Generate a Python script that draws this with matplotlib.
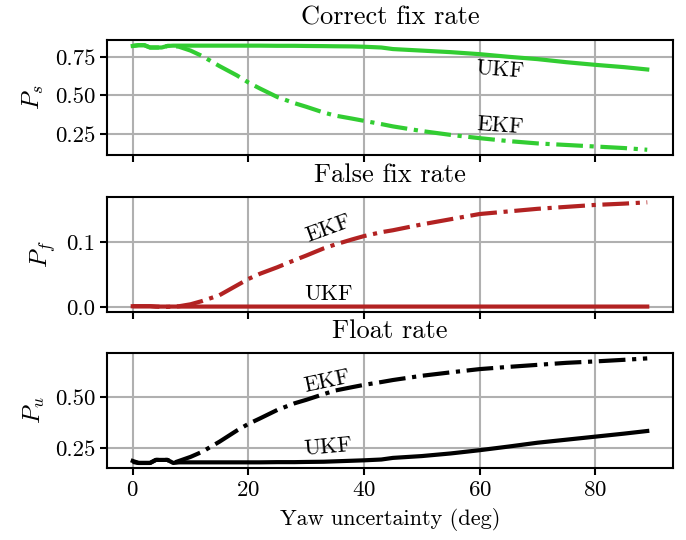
import matplotlib
matplotlib.use("Agg")
import matplotlib.pyplot as plt

plt.rcParams['font.family'] = ['cmr10', 'DejaVu Serif']
plt.rcParams['mathtext.fontset'] = 'cm'
plt.rcParams['axes.formatter.use_mathtext'] = True
plt.rcParams['font.size'] = 16

yaw = [0, 1, 2, 3, 4, 5, 6, 7, 8, 10, 12, 15, 18, 20, 22, 25, 28, 30, 33, 35, 38, 40,
       43, 45, 50, 55, 60, 65, 70, 75, 80, 85, 89]

ekf_ps = [0.82, 0.825, 0.825, 0.81, 0.81, 0.81, 0.82, 0.82, 0.815, 0.79, 0.755, 0.69, 0.63,
          0.584, 0.545, 0.49, 0.45, 0.427, 0.39, 0.37, 0.35, 0.336, 0.315, 0.30, 0.27, 0.245,
          0.224, 0.205, 0.19, 0.18, 0.17, 0.16, 0.149]
ukf_ps = [0.82, 0.825, 0.825, 0.81, 0.81, 0.81, 0.82, 0.822, 0.822, 0.822, 0.822, 0.822, 0.822,
          0.822, 0.822, 0.821, 0.821, 0.82, 0.819, 0.818, 0.817, 0.815, 0.81, 0.80, 0.79, 0.78,
          0.767, 0.75, 0.735, 0.715, 0.698, 0.683, 0.668]

ekf_pf = [0.001, 0.001, 0.001, 0.001, 0.0005, 0.0, 0.0, 0.0005, 0.001, 0.004, 0.009, 0.018,
          0.033, 0.043, 0.051, 0.061, 0.072, 0.079, 0.09, 0.096, 0.104, 0.109, 0.115, 0.118,
          0.127, 0.135, 0.143, 0.147, 0.151, 0.154, 0.157, 0.159, 0.161]
ukf_pf = [0.001, 0.001, 0.001, 0.001, 0.0005, 0.0005, 0.0005, 0.0005, 0.0005, 0.0005, 0.0005,
          0.0005, 0.0005, 0.0005, 0.0005, 0.0005, 0.0005, 0.0005, 0.0005, 0.0005, 0.0005,
          0.0005, 0.0005, 0.0005, 0.0005, 0.0005, 0.0005, 0.0005, 0.0005, 0.0005, 0.0005,
          0.0005, 0.0005]

ekf_pu = [0.18, 0.175, 0.175, 0.175, 0.19, 0.19, 0.19, 0.175, 0.185, 0.205, 0.23, 0.28, 0.335,
          0.368, 0.395, 0.437, 0.47, 0.487, 0.515, 0.533, 0.55, 0.561, 0.575, 0.585, 0.606,
          0.623, 0.639, 0.65, 0.66, 0.67, 0.677, 0.685, 0.692]
ukf_pu = [0.185, 0.175, 0.175, 0.175, 0.19, 0.19, 0.19, 0.175, 0.178, 0.178, 0.178, 0.178,
          0.178, 0.178, 0.178, 0.179, 0.179, 0.18, 0.181, 0.183, 0.186, 0.188, 0.192, 0.2,
          0.209, 0.222, 0.238, 0.256, 0.275, 0.29, 0.305, 0.32, 0.333]

titles = ["Correct fix rate", "False fix rate", "Float rate"]
ylabels = [r"$P_s$", r"$P_f$", r"$P_u$"]
colors = ["#32CD32", "#B22222", "black"]
yticks = [[0.25, 0.50, 0.75], [0.0, 0.1], [0.25, 0.50]]
ytick_labels = [["0.25", "0.50", "0.75"], ["0.0", "0.1"], ["0.25", "0.50"]]

series = [(ekf_ps, ukf_ps), (ekf_pf, ukf_pf), (ekf_pu, ukf_pu)]
# label positions (x, y, rotation) for EKF and UKF
label_pos = [((63.5, 0.30, -4), (63.5, 0.665, -4)),
             ((33.8, 0.12, 20), (33.8, 0.02, 0)),
             ((33.7, 0.576, 12), (33.7, 0.253, 5))]

fig = plt.figure(figsize=(6.86, 5.40), dpi=100)
bottoms = [0.713, 0.422, 0.133]
height = 0.213
axes = []
for i in range(3):
    ax = fig.add_axes([0.156, bottoms[i], 0.825, height], sharex=axes[0] if axes else None)
    axes.append(ax)
    ekf, ukf = series[i]
    ax.plot(yaw, ekf, color=colors[i], lw=3, ls='-.')
    ax.plot(yaw, ukf, color=colors[i], lw=3, ls='-')
    ax.set_title(titles[i], fontsize=19, pad=11)
    ax.set_ylabel(ylabels[i], fontsize=18, labelpad=6)
    ax.set_yticks(yticks[i])
    ax.set_yticklabels(ytick_labels[i])
    ax.grid(True, color='#b0b0b0', lw=1.5)
    ax.set_axisbelow(True)
    for s in ax.spines.values():
        s.set_linewidth(1.5)
    ax.tick_params(width=1.5, length=5, labelsize=16.5)
    (ex, ey, er), (ux, uy, ur) = label_pos[i]
    ax.text(ex, ey, "EKF", rotation=er, ha='center', va='center', fontsize=16,
            rotation_mode='anchor')
    ax.text(ux, uy, "UKF", rotation=ur, ha='center', va='center', fontsize=16,
            rotation_mode='anchor')
    if i < 2:
        plt.setp(ax.get_xticklabels(), visible=False)

axes[2].set_xticks([0, 20, 40, 60, 80])
axes[2].set_xlabel("Yaw uncertainty (deg)", fontsize=16, labelpad=6)

fig.savefig("out.png", dpi=100)
